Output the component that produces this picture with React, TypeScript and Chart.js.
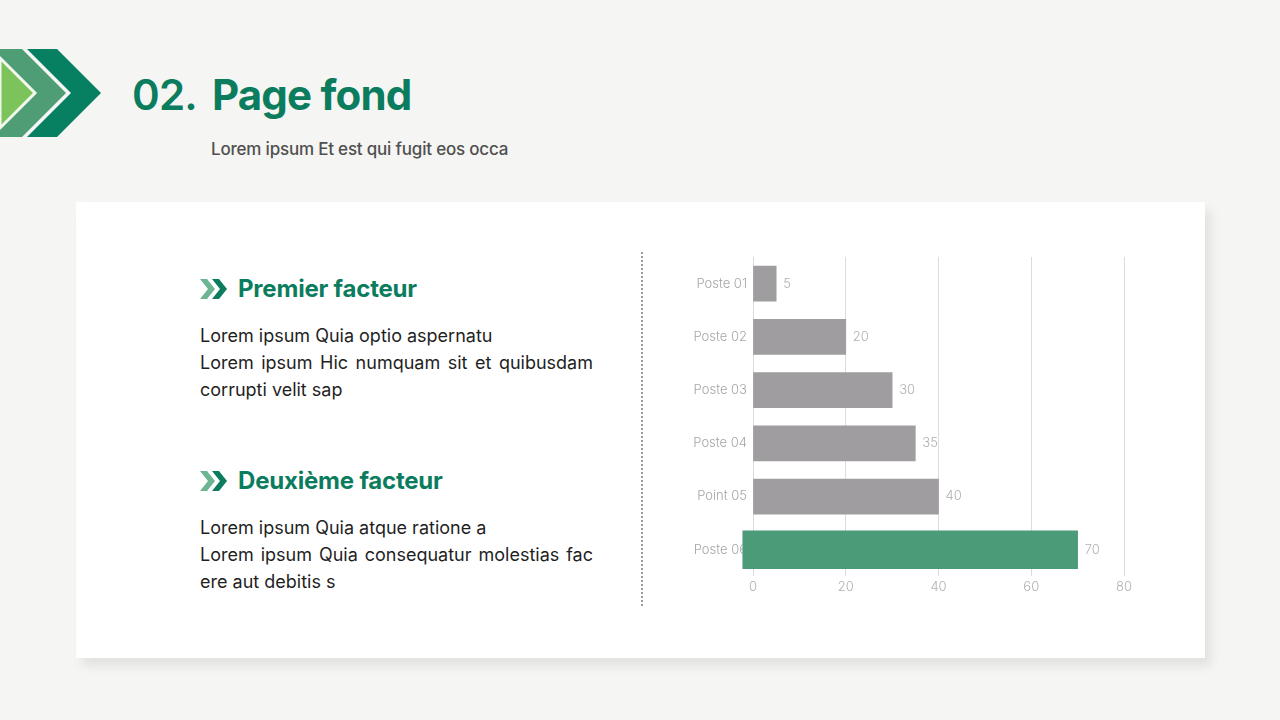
import React, { useEffect, useRef } from 'react';
import { Chart, registerables } from 'chart.js';

Chart.register(...registerables);

const categories = ['Poste 01', 'Poste 02', 'Poste 03', 'Poste 04', 'Point 05', 'Poste 06'];
const greyValues = [5, 20, 30, 35, 40, null];
// highlighted bar starts a little left of the axis in the original
const greenValues = [null, null, null, null, null, [-2.2, 70]];
const xTicks = [0, 20, 40, 60, 80];

const GREEN = '#0b7d5e';
const FONT = 'Inter, "Noto Sans", sans-serif';

const valueLabels = {
  id: 'valueLabels',
  afterDatasetsDraw(chart) {
    const { ctx } = chart;
    ctx.save();
    ctx.font = `300 13px ${FONT}`;
    ctx.fillStyle = '#b0b0b0';
    ctx.textAlign = 'left';
    ctx.textBaseline = 'middle';
    chart.data.datasets.forEach((ds, di) => {
      const meta = chart.getDatasetMeta(di);
      meta.data.forEach((bar, i) => {
        const raw = ds.data[i];
        if (raw == null) return;
        const v = Array.isArray(raw) ? raw[1] : raw;
        ctx.fillText(String(v), bar.x + 7, bar.y);
      });
    });
    ctx.restore();
  },
};

const BarChart = () => {
  const canvasRef = useRef(null);

  useEffect(() => {
    if (!canvasRef.current) return;

    const chart = new Chart(canvasRef.current, {
      type: 'bar',
      data: {
        labels: categories,
        datasets: [
          {
            data: greyValues,
            backgroundColor: '#9f9d9f',
            barThickness: 35,
            grouped: false,
          },
          {
            data: greenValues,
            backgroundColor: '#4b9b78',
            barThickness: 38,
            grouped: false,
            clip: false,
          },
        ],
      },
      options: {
        indexAxis: 'y',
        animation: false,
        responsive: false,
        maintainAspectRatio: false,
        layout: { padding: { top: 17, right: 26, bottom: 2, left: 0 } },
        plugins: {
          legend: { display: false },
          tooltip: { enabled: false },
        },
        scales: {
          x: {
            min: 0,
            max: 80,
            afterBuildTicks: (scale) => {
              scale.ticks = xTicks.map((v) => ({ value: v }));
            },
            grid: { color: '#dcdcdc', lineWidth: 1, drawTicks: false },
            border: { display: false },
            ticks: {
              color: '#b0b0b0',
              padding: 3,
              font: { family: FONT, size: 13, weight: '300' },
            },
          },
          y: {
            grid: { display: false, drawTicks: false },
            border: { display: false },
            afterFit: (scale) => {
              scale.width = 73;
            },
            ticks: {
              color: '#a6a6a6',
              padding: 6,
              font: { family: FONT, size: 13, weight: '300' },
            },
          },
        },
      },
      plugins: [valueLabels],
    });

    return () => {
      chart.destroy();
    };
  }, []);

  return <canvas ref={canvasRef} width={470} height={360} style={{ width: 470, height: 360 }} />;
};

const Arrows = () => (
  <svg width="30" height="20" viewBox="0 0 30 20" style={{ display: 'block' }}>
    <polygon points="0,0 7,0 15,10 7,20 0,20 8,10" fill="#6cb592" />
    <polygon points="12,0 19,0 27,10 19,20 12,20 20,10" fill={GREEN} />
  </svg>
);

const Block = ({ top, title, lines }) => (
  <div style={{ position: 'absolute', left: 200, top, width: 393 }}>
    <div style={{ display: 'flex', alignItems: 'center', gap: 8 }}>
      <Arrows />
      <div style={{ fontSize: 24, fontWeight: 700, color: GREEN, lineHeight: '30px', letterSpacing: -0.2 }}>
        {title}
      </div>
    </div>
    <div
      style={{
        marginTop: 18,
        fontSize: 18,
        lineHeight: '27px',
        color: '#1f1f1f',
        textAlign: 'justify',
        fontWeight: 400,
      }}
    >
      {lines[0]}
      <br />
      {lines[1]}
    </div>
  </div>
);

const App = () => (
  <div
    style={{
      position: 'fixed',
      left: 0,
      top: 0,
      width: 1280,
      height: 720,
      background: '#f5f5f3',
      fontFamily: FONT,
      overflow: 'hidden',
    }}
  >
    <svg width="110" height="100" style={{ position: 'absolute', left: 0, top: 44 }} viewBox="0 44 110 100">
      <polygon points="27,49 57,49 101,93 57,137 27,137 71,93" fill="#077f61" />
      <polygon points="0,49 22,49 66,93 22,137 0,137" fill="#4e9d74" />
      <polygon points="0,58 35,93 0,128" fill="#7dc35c" stroke="#f3f8ee" strokeWidth="3" />
    </svg>

    <div
      style={{
        position: 'absolute',
        left: 132,
        top: 68,
        fontSize: 42,
        color: GREEN,
        lineHeight: '54px',
        letterSpacing: -0.8,
      }}
    >
      <span style={{ fontWeight: 600 }}>02.</span>
      <span style={{ fontWeight: 700, marginLeft: 15 }}>Page fond</span>
    </div>
    <div
      style={{
        position: 'absolute',
        left: 211,
        top: 137,
        fontSize: 17,
        color: '#505050',
        fontWeight: 500,
        lineHeight: '24px',
        letterSpacing: -0.2,
      }}
    >
      Lorem ipsum Et est qui fugit eos occa
    </div>

    <div
      style={{
        position: 'absolute',
        left: 76,
        top: 202,
        width: 1129,
        height: 456,
        background: '#ffffff',
        boxShadow: '6px 8px 10px rgba(0,0,0,0.08)',
      }}
    />

    <Block
      top={274}
      title="Premier facteur"
      lines={['Lorem ipsum Quia optio aspernatu', 'Lorem ipsum Hic numquam sit et quibusdam corrupti velit sap']}
    />
    <Block
      top={466}
      title="Deuxième facteur"
      lines={['Lorem ipsum Quia atque ratione a', 'Lorem ipsum Quia consequatur molestias fac ere aut debitis s']}
    />

    <div style={{ position: 'absolute', left: 641, top: 252, height: 354, borderLeft: '2px dotted #9a9a9a' }} />

    <div style={{ position: 'absolute', left: 680, top: 240 }}>
      <BarChart />
    </div>
  </div>
);

export default App;
